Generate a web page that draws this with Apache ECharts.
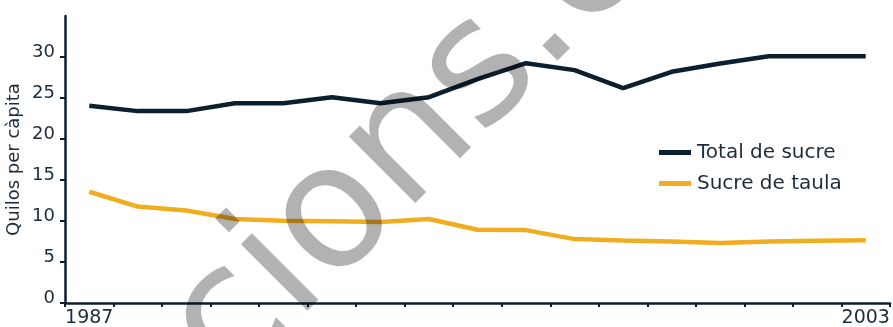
<!DOCTYPE html>
<html>
<head>
<meta charset="utf-8">
<script src="https://cdn.jsdelivr.net/npm/echarts@6/dist/echarts.min.js"></script>
<style>
html,body{margin:0;padding:0;background:#fff;}
#c{width:893px;height:327px;}
</style>
</head>
<body>
<div id="c"></div>
<script>
const years = ['1987','1988','1989','1990','1991','1992','1993','1994','1995','1996','1997','1998','1999','2000','2001','2002','2003'];
const totalSucre = [24.05, 23.4, 23.4, 24.35, 24.35, 25.1, 24.35, 25.1, 27.3, 29.25, 28.4, 26.2, 28.2, 29.2, 30.1, 30.1, 30.1];
const sucreTaula = [13.57, 11.76, 11.27, 10.25, 10.04, 9.96, 9.88, 10.25, 8.93, 8.89, 7.79, 7.62, 7.5, 7.33, 7.5, 7.58, 7.66];
const yTickValues = [0, 5, 10, 15, 20, 25, 30];
const xLabelYears = ['1987', '2003'];
const seriesNames = ['Total de sucre', 'Sucre de taula'];
const yTitle = 'Quilos per càpita';
const watermarkHead = 'publica';
const watermarkTail = 'cions.cat';

const INK = '#0b1f2f';
const TEXT = '#1c2c3c';
const FONT = '"DejaVu Sans", sans-serif';
const WM_STYLE = {font: '172px "DejaVu Sans"', fill: 'rgba(0,0,0,0.3)', textVerticalAlign: 'middle'};

const chart = echarts.init(document.getElementById('c'), null, {renderer: 'canvas'});
chart.setOption({
  animation: false,
  backgroundColor: '#ffffff',
  grid: {left: 65, right: 3, top: 16, bottom: 24, containLabel: false, outerBoundsMode: 'none'},
  legend: {
    orient: 'vertical',
    left: 659,
    top: 142.5,
    padding: 0,
    icon: 'rect',
    itemWidth: 32,
    itemHeight: 5,
    itemGap: 11,
    textStyle: {fontFamily: FONT, fontSize: 20, color: TEXT, padding: [0, 0, 0, 1]},
    data: seriesNames
  },
  xAxis: {
    type: 'category',
    data: years,
    boundaryGap: true,
    axisLine: {lineStyle: {color: INK, width: 2.5}},
    axisTick: {show: true, alignWithLabel: false, interval: 0, length: 4, lineStyle: {color: INK, width: 2}},
    axisLabel: {
      interval: (i, v) => xLabelYears.indexOf(v) >= 0,
      fontFamily: FONT, fontSize: 19, color: TEXT, margin: 6
    },
    splitLine: {show: false}
  },
  yAxis: {
    type: 'value',
    min: 0,
    max: 35,
    interval: 5,
    name: yTitle,
    nameLocation: 'middle',
    nameGap: 42,
    nameMoveOverlap: false,
    nameTextStyle: {fontFamily: FONT, fontSize: 18, color: TEXT},
    axisLine: {show: true, lineStyle: {color: INK, width: 2.5}},
    axisTick: {show: true, length: 5, customValues: yTickValues, lineStyle: {color: INK, width: 2}},
    axisLabel: {customValues: yTickValues, fontFamily: FONT, fontSize: 18, color: TEXT, margin: 10, verticalAlign: 'bottom', lineHeight: 10},
    splitLine: {show: false}
  },
  series: [
    {name: seriesNames[0], type: 'line', data: totalSucre, showSymbol: false, symbol: 'none',
     lineStyle: {color: INK, width: 4.5}, itemStyle: {color: INK}, z: 3},
    {name: seriesNames[1], type: 'line', data: sucreTaula, showSymbol: false, symbol: 'none',
     lineStyle: {color: '#f1ad20', width: 4.5}, itemStyle: {color: '#f1ad20'}, z: 2}
  ],
  graphic: [
    {type: 'text', x: 197.5, y: 357.5, rotation: Math.PI / 4, silent: true, z: 100,
     style: Object.assign({text: watermarkTail, textAlign: 'left'}, WM_STYLE)},
    {type: 'text', x: 197.5, y: 357.5, rotation: Math.PI / 4, silent: true, z: 100,
     style: Object.assign({text: watermarkHead, textAlign: 'right'}, WM_STYLE)}
  ]
});
</script>
</body>
</html>
